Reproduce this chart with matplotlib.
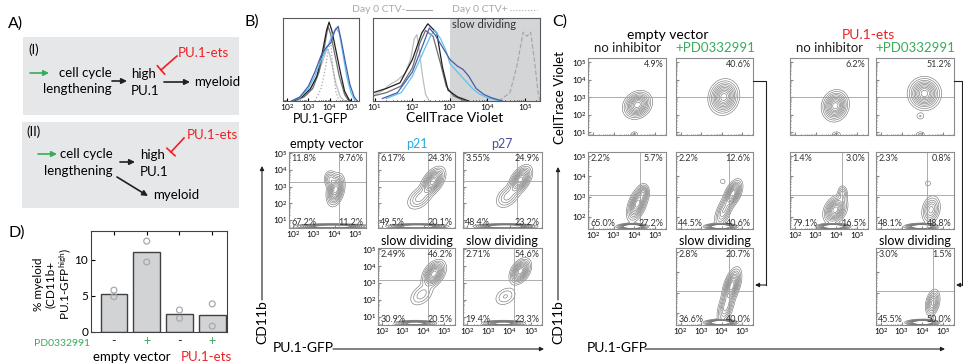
import numpy as np
import matplotlib.pyplot as plt
from matplotlib.patches import Rectangle

plt.rcParams['font.family'] = ['Lato', 'DejaVu Sans']
plt.rcParams['mathtext.default'] = 'regular'

W, H = 963, 363
GREEN = '#3aaa5c'
RED = '#ed2024'
CYAN = '#27aae1'
NAVY = '#4b4fa0'

# ---- panel D data ----
inhib_signs = ['-', '+', '-', '+']
bar_heights = [5.3, 11.1, 2.5, 2.4]
rep1 = [5.8, 12.6, 3.05, 3.9]
rep2 = [4.9, 9.7, 1.9, 0.8]

# ---- panel B histograms: log10 intensity vs relative count ----
gfp_lgray_x = [2.5, 3.0, 3.4, 3.7, 3.85, 3.95, 4.1, 4.3, 4.5, 4.7]
gfp_lgray_y = [0, 0.1, 0.3, 0.5, 0.62, 0.6, 0.45, 0.2, 0.05, 0]
gfp_dot_x = [3.3, 3.6, 3.8, 3.95, 4.05, 4.15, 4.3, 4.45]
gfp_dot_y = [0, 0.15, 0.4, 0.65, 0.7, 0.4, 0.1, 0]
gfp_black_x = [2.3, 2.7, 3.1, 3.4, 3.65, 3.85, 3.97, 4.1, 4.3, 4.5, 4.7, 4.9, 5.0]
gfp_black_y = [0, 0.05, 0.15, 0.3, 0.58, 0.85, 0.95, 0.85, 0.6, 0.35, 0.12, 0.02, 0]
gfp_dgray_x = [2.3, 2.8, 3.2, 3.5, 3.75, 3.92, 4.05, 4.25, 4.45, 4.7, 4.9]
gfp_dgray_y = [0, 0.05, 0.15, 0.35, 0.65, 0.9, 0.8, 0.55, 0.3, 0.08, 0]
gfp_p21_x = [2.2, 2.6, 3.0, 3.3, 3.6, 3.9, 4.1, 4.3, 4.45, 4.6, 4.8, 5.0, 5.2]
gfp_p21_y = [0, 0.04, 0.15, 0.3, 0.5, 0.65, 0.78, 0.88, 0.82, 0.6, 0.3, 0.1, 0]
gfp_p27_x = [2.2, 2.6, 3.0, 3.3, 3.6, 3.85, 4.05, 4.25, 4.4, 4.55, 4.75, 4.95, 5.15, 5.3]
gfp_p27_y = [0, 0.05, 0.18, 0.35, 0.55, 0.65, 0.7, 0.85, 0.9, 0.72, 0.45, 0.2, 0.05, 0]

ctv_lgray_x = [1.0, 1.2, 1.4, 1.6, 1.8, 1.95, 2.05, 2.12, 2.2, 2.27, 2.35, 2.45]
ctv_lgray_y = [0.08, 0.12, 0.2, 0.25, 0.33, 0.5, 0.75, 0.8, 0.55, 0.3, 0.08, 0]
ctv_dot_x = [4.3, 4.6, 4.8, 4.95, 5.05, 5.15, 5.25, 5.35, 5.4]
ctv_dot_y = [0, 0.1, 0.45, 0.83, 0.78, 0.83, 0.5, 0.1, 0]
ctv_black_x = [0.95, 1.3, 1.67, 2.0, 2.25, 2.41, 2.65, 2.8, 2.95, 3.2, 3.5]
ctv_black_y = [0.1, 0.15, 0.22, 0.5, 0.82, 0.93, 0.82, 0.41, 0.13, 0.05, 0]
ctv_dgray_x = [0.95, 1.3, 1.7, 2.0, 2.2, 2.35, 2.55, 2.75, 2.9, 3.1, 3.4]
ctv_dgray_y = [0.06, 0.1, 0.18, 0.4, 0.7, 0.85, 0.78, 0.45, 0.18, 0.06, 0]
ctv_p21_x = [1.3, 1.7, 2.0, 2.3, 2.5, 2.6, 2.75, 2.9, 3.0, 3.2, 3.4, 3.6, 3.8, 4.0, 4.3]
ctv_p21_y = [0.03, 0.1, 0.3, 0.6, 0.8, 0.85, 0.75, 0.6, 0.45, 0.35, 0.25, 0.15, 0.08, 0.04, 0]
ctv_p27_x = [1.2, 1.6, 2.0, 2.3, 2.45, 2.6, 2.8, 3.0, 3.2, 3.35, 3.5, 3.7, 3.9, 4.1, 4.4]
ctv_p27_y = [0.03, 0.1, 0.35, 0.7, 0.88, 0.8, 0.65, 0.5, 0.42, 0.38, 0.3, 0.15, 0.08, 0.04, 0]

# ---- flow contour populations: (x, y, sd x, sd y, corr, weight) in log10 units ----
B_ev = [(4.05, 2.8, 0.19, 0.42, 0.3, 1.0), (3.8, 3.45, 0.15, 0.25, 0.0, 0.35), (3.9, 0.6, 0.7, 0.06, 0, 2.0)]
B_p21 = [(4.45, 3.3, 0.26, 0.38, 0.5, 1.0), (3.8, 2.3, 0.3, 0.35, 0.4, 0.3), (3.7, 0.6, 0.55, 0.06, 0, 2.5)]
B_p27 = [(4.5, 3.4, 0.24, 0.38, 0.5, 1.0), (3.9, 2.4, 0.28, 0.35, 0.4, 0.3), (3.8, 0.6, 0.55, 0.06, 0, 2.5)]
B_p21_slow = [(4.5, 3.55, 0.25, 0.35, 0.4, 1.0), (3.9, 2.3, 0.3, 0.35, 0.4, 0.22), (3.6, 0.6, 0.4, 0.07, 0, 1.5)]
B_p27_slow = [(4.5, 3.7, 0.22, 0.33, 0.4, 1.0), (3.8, 2.2, 0.28, 0.3, 0.3, 0.18), (3.7, 0.6, 0.4, 0.07, 0, 1.5)]

C_ev_ctv = [(4.15, 2.55, 0.3, 0.34, 0.2, 1.0), (4.0, 0.85, 0.12, 0.12, 0, 0.12)]
C_evpd_ctv = [(4.1, 3.0, 0.32, 0.43, 0.1, 1.0)]
C_ets_ctv = [(3.95, 2.5, 0.28, 0.38, 0.1, 1.0), (4.0, 0.85, 0.15, 0.12, 0, 0.12)]
C_etspd_ctv = [(4.1, 3.2, 0.34, 0.4, 0.0, 1.0), (3.9, 1.9, 0.13, 0.13, 0, 0.1), (3.9, 0.85, 0.15, 0.12, 0, 0.12)]

C_ev_cd = [(4.15, 2.65, 0.22, 0.38, 0.5, 1.0), (4.45, 3.2, 0.12, 0.18, 0, 0.4), (3.9, 1.52, 0.28, 0.06, 0, 3.0)]
C_evpd_cd = [(4.55, 3.15, 0.2, 0.3, 0.5, 1.0), (4.1, 2.3, 0.22, 0.38, 0.6, 0.45), (4.05, 3.75, 0.1, 0.1, 0, 0.09), (3.95, 1.52, 0.3, 0.06, 0, 3.0)]
C_ets_cd = [(3.95, 2.35, 0.25, 0.3, 0.3, 1.0), (4.3, 3.15, 0.12, 0.2, 0, 0.3), (3.85, 1.52, 0.3, 0.06, 0, 3.0)]
C_etspd_cd = [(4.42, 2.35, 0.21, 0.32, 0.2, 0.5), (4.27, 3.65, 0.11, 0.11, 0, 0.09), (3.95, 1.52, 0.3, 0.06, 0, 3.0)]
C_ev_slow = [(4.5, 3.35, 0.2, 0.38, 0.5, 1.0), (4.2, 2.3, 0.2, 0.4, 0.5, 0.5), (3.95, 1.52, 0.3, 0.06, 0, 3.0)]
C_ets_slow = [(4.5, 2.5, 0.16, 0.3, 0.3, 0.6), (4.0, 1.52, 0.3, 0.06, 0, 3.0)]

LEVELS = [0.05, 0.1, 0.17, 0.25, 0.34, 0.44, 0.55, 0.66, 0.78, 0.9]

fig = plt.figure(figsize=(W / 100, H / 100), dpi=100)


def px_axes(x0, y0, x1, y1):
    return fig.add_axes([x0 / W, 1 - y1 / H, (x1 - x0) / W, (y1 - y0) / H])


def density(blobs, X, Y):
    Z = np.zeros_like(X)
    for cx, cy, sx, sy, rho, w in blobs:
        dx = (X - cx) / sx
        dy = (Y - cy) / sy
        Z += w * np.exp(-(dx**2 - 2 * rho * dx * dy + dy**2) / (2 * (1 - rho**2)))
    return Z


def log_ticks(ax, axis, lo, hi, labels):
    major = [t for t in range(int(np.ceil(lo)), int(np.floor(hi)) + 1)]
    minor = [n + np.log10(k) for n in range(int(np.floor(lo)), int(hi) + 1)
             for k in range(2, 10) if lo < n + np.log10(k) < hi]
    lab = [r'$10^{%d}$' % t for t in major] if labels else [''] * len(major)
    if axis == 'x':
        ax.set_xticks(major, lab)
        ax.set_xticks(minor, minor=True)
    else:
        ax.set_yticks(major, lab)
        ax.set_yticks(minor, minor=True)


def flow(rect, blobs, xlim, ylim, hline, vline, pcts, xlab=False, ylab=False):
    ax = px_axes(*rect)
    X, Y = np.meshgrid(np.linspace(xlim[0], xlim[1], 260), np.linspace(ylim[0], ylim[1], 260))
    ax.contour(X, Y, density(blobs, X, Y), levels=LEVELS, colors='#7a7a7a', linewidths=0.45)
    ax.axhline(hline, color='#a0a0a0', lw=0.6)
    if vline is not None:
        ax.axvline(vline, color='#a0a0a0', lw=0.6)
    ax.set_xlim(*xlim)
    ax.set_ylim(*ylim)
    log_ticks(ax, 'x', xlim[0], xlim[1], xlab)
    log_ticks(ax, 'y', ylim[0], ylim[1], ylab)
    ax.tick_params(which='both', direction='in', length=2, color='#888888', labelsize=6, pad=1)
    ax.tick_params(which='minor', length=1)
    for s in ax.spines.values():
        s.set_color('#8c8c8c')
        s.set_linewidth(0.8)
    spots = [(0.03, 0.97, 'left', 'top'), (0.97, 0.97, 'right', 'top'),
             (0.03, 0.01, 'left', 'bottom'), (0.97, 0.01, 'right', 'bottom')]
    for txt, (x, y, ha, va) in zip(pcts, spots):
        if txt:
            ax.text(x, y, txt, transform=ax.transAxes, ha=ha, va=va, fontsize=6.5, color='#333333')
    return ax


# ---------------- panel B histograms ----------------
h1 = px_axes(283, 18, 359, 101)
for xs, ys, c, ls in [(gfp_lgray_x, gfp_lgray_y, '#bcbec0', '-'), (gfp_dot_x, gfp_dot_y, '#a7a9ac', ':'),
                      (gfp_dgray_x, gfp_dgray_y, '#6d6e71', '-'), (gfp_black_x, gfp_black_y, '#231f20', '-'),
                      (gfp_p21_x, gfp_p21_y, '#5bc4ee', '-'), (gfp_p27_x, gfp_p27_y, '#4d5aa8', '-')]:
    h1.plot(xs, ys, color=c, ls=ls, lw=0.9)
h1.set_xlim(1.8, 5.38)
h1.set_ylim(0, 1.0)
h1.set_yticks([])
log_ticks(h1, 'x', 1.8, 5.38, True)

h2 = px_axes(373, 18, 540, 101)
h2.axvspan(3.0, 5.5, color='#d4d5d6', lw=0)
for xs, ys, c, ls in [(ctv_lgray_x, ctv_lgray_y, '#bcbec0', '-'), (ctv_dot_x, ctv_dot_y, '#a7a9ac', '--'),
                      (ctv_dgray_x, ctv_dgray_y, '#6d6e71', '-'), (ctv_black_x, ctv_black_y, '#231f20', '-'),
                      (ctv_p21_x, ctv_p21_y, '#5bc4ee', '-'), (ctv_p27_x, ctv_p27_y, '#4d5aa8', '-')]:
    h2.plot(xs, ys, color=c, ls=ls, lw=0.9)
h2.set_xlim(0.95, 5.4)
h2.set_ylim(0, 1.0)
h2.set_yticks([])
log_ticks(h2, 'x', 0.95, 5.4, True)
h2.text(3.05, 0.92, 'slow dividing', fontsize=8, color='#333333', va='center')
for hx in (h1, h2):
    hx.tick_params(which='both', direction='in', length=2, labelsize=6, pad=1)
    hx.tick_params(which='minor', length=1)
    for s in hx.spines.values():
        s.set_color('#58595b')
        s.set_linewidth(0.8)

# ---------------- panel B flow plots ----------------
BX, BY = (1.8, 5.52), (0.5, 5.08)
flow((289, 152, 366, 228), B_ev, BX, BY, 3.27, 4.22, ['11.8%', '9.76%', '67.2%', '11.2%'], True, True)
flow((378, 152, 455, 228), B_p21, BX, BY, 3.33, 4.22, ['6.17%', '24.3%', '49.5%', '20.1%'])
flow((463, 152, 542, 228), B_p27, BX, BY, 3.33, 4.32, ['3.55%', '24.9%', '48.4%', '23.2%'])
flow((378, 248, 455, 325), B_p21_slow, BX, BY, 3.15, 4.22, ['2.49%', '46.2%', '30.9%', '20.5%'], True, True)
flow((463, 248, 542, 325), B_p27_slow, BX, BY, 3.15, 4.22, ['2.71%', '54.6%', '19.4%', '23.3%'], True)

# ---------------- panel C flow plots ----------------
CX, CY1, CY2 = (1.76, 5.53), (0.83, 5.23), (1.4, 5.2)
flow((588, 58, 666, 135), C_ev_ctv, CX, CY1, 3.0, None, ['', '4.9%', '', ''], False, True)
flow((676, 58, 753, 135), C_evpd_ctv, CX, CY1, 3.0, None, ['', '40.6%', '', ''])
flow((790, 58, 868, 135), C_ets_ctv, CX, CY1, 3.0, None, ['', '6.2%', '', ''])
flow((876, 58, 954, 135), C_etspd_ctv, CX, CY1, 3.0, None, ['', '51.2%', '', ''])
flow((588, 152, 666, 229), C_ev_cd, CX, CY2, 3.08, 4.27, ['2.2%', '5.7%', '65.0%', '27.2%'], True, True)
flow((676, 152, 753, 229), C_evpd_cd, CX, CY2, 3.08, 4.37, ['2.2%', '12.6%', '44.5%', '40.6%'])
flow((790, 152, 868, 229), C_ets_cd, CX, CY2, 3.08, 4.27, ['1.4%', '3.0%', '79.1%', '16.5%'], True)
flow((876, 152, 954, 229), C_etspd_cd, CX, CY2, 3.08, 4.22, ['2.3%', '0.8%', '48.1%', '48.8%'])
flow((676, 248, 753, 325), C_ev_slow, CX, CY2, 3.08, 4.37, ['2.8%', '20.7%', '36.6%', '40.0%'], True)
flow((876, 248, 954, 325), C_ets_slow, CX, CY2, 3.08, 4.5, ['3.0%', '1.5%', '45.5%', '50.0%'], True)

# ---------------- panel D ----------------
axD = px_axes(91, 231, 227, 332)
pos = np.arange(1, 5)
axD.bar(pos, bar_heights, width=0.82, color='#d1d3d4', edgecolor='#414042', lw=1)
for p, a, b in zip(pos, rep1, rep2):
    axD.scatter([p, p], [a, b], s=18, facecolors='none', edgecolors='#a7a9ac', lw=0.9, zorder=3)
axD.set_xlim(0.3, 4.45)
axD.set_ylim(0, 14)
axD.set_yticks([0, 5, 10])
axD.set_xticks(pos, inhib_signs)
for lbl, c in zip(axD.get_xticklabels(), ['#333333', GREEN, '#333333', GREEN]):
    lbl.set_color(c)
axD.tick_params(axis='x', bottom=False, top=True, direction='in', length=3, labelsize=9, pad=2)
axD.tick_params(axis='y', direction='in', length=3, labelsize=8.5, pad=2)
for s in axD.spines.values():
    s.set_color('#414042')

# ---------------- overlay: panel A, labels, arrows ----------------
ov = fig.add_axes([0, 0, 1, 1], zorder=10)
ov.set_xlim(0, W)
ov.set_ylim(H, 0)
ov.axis('off')


def arrow(x0, y0, x1, y1, color='#231f20', lw=1.2, ms=8):
    ov.annotate('', xy=(x1, y1), xytext=(x0, y0),
                arrowprops=dict(arrowstyle='-|>', color=color, lw=lw, mutation_scale=ms,
                                shrinkA=0, shrinkB=0))


def inhibit(x0, y0, x1, y1):
    ov.plot([x0, x1], [y0, y1], color=RED, lw=1.2)
    d = np.array([x1 - x0, y1 - y0]) / np.hypot(x1 - x0, y1 - y0)
    n = np.array([-d[1], d[0]]) * 5.5
    ov.plot([x1 - n[0], x1 + n[0]], [y1 - n[1], y1 + n[1]], color=RED, lw=1.2)


fs_a = 9.5
ov.add_patch(Rectangle((23, 37), 216, 78, fc='#e6e7e8', ec='none'))
ov.add_patch(Rectangle((22, 122), 217, 86, fc='#e6e7e8', ec='none'))
ov.text(28, 50, '(I)', fontsize=fs_a, va='center')
arrow(30, 73, 49, 73, GREEN)
ov.text(112, 73, 'cell cycle', fontsize=fs_a, ha='right', va='center')
ov.text(112, 89, 'lengthening', fontsize=fs_a, ha='right', va='center')
arrow(112, 81, 127, 81)
ov.text(131, 74, 'high', fontsize=fs_a, va='center')
ov.text(131, 91, 'PU.1', fontsize=fs_a, va='center')
inhibit(177, 56, 161, 70)
ov.text(178, 53, 'PU.1-ets', fontsize=fs_a, color=RED, va='center')
arrow(164, 82, 190, 82)
ov.text(194, 82, 'myeloid', fontsize=fs_a, va='center')

ov.text(26, 132, '(II)', fontsize=fs_a, va='center')
arrow(38, 154, 57, 154, GREEN)
ov.text(113, 154, 'cell cycle', fontsize=fs_a, ha='right', va='center')
ov.text(113, 171, 'lengthening', fontsize=fs_a, ha='right', va='center')
arrow(120, 162, 135, 162)
ov.text(140, 155, 'high', fontsize=fs_a, va='center')
ov.text(140, 172, 'PU.1', fontsize=fs_a, va='center')
inhibit(184, 138, 171, 152)
ov.text(187, 135, 'PU.1-ets', fontsize=fs_a, color=RED, va='center')
arrow(117, 177, 148, 196)
ov.text(153, 195, 'myeloid', fontsize=fs_a, va='center')

for x, y, t in [(8, 24, 'A)'), (245, 22, 'B)'), (552, 22, 'C)'), (8, 233, 'D)')]:
    ov.text(x, y, t, fontsize=11.5, va='center')

# panel D labels
ov.text(53, 284, '% myeloid\n(CD11b+\nPU.1-GFP$^{high}$)', fontsize=8.5, rotation=90,
        ha='center', va='center', multialignment='center', linespacing=1.1)
ov.text(90, 343, 'PD0332991', fontsize=7.5, color=GREEN, ha='right', va='center')
ov.text(132, 357, 'empty vector', fontsize=9.5, ha='center', va='center')
ov.text(206, 357, 'PU.1-ets', fontsize=9.5, color=RED, ha='center', va='center')

# panel B labels
LG = '#a7a9ac'
ov.text(352, 10, 'Day 0 CTV-', fontsize=7.5, color=LG, va='center')
ov.plot([406, 432], [10, 10], color=LG, lw=0.8)
ov.text(452, 10, 'Day 0 CTV+', fontsize=7.5, color=LG, va='center')
ov.plot([510, 537], [10, 10], color=LG, lw=0.8, ls=':')
ov.text(320, 119, 'PU.1-GFP', fontsize=9, ha='center', va='center')
ov.text(455, 118, 'CellTrace Violet', fontsize=10, ha='center', va='center')
ov.text(327, 144, 'empty vector', fontsize=9, ha='center', va='center')
ov.text(417, 144, 'p21', fontsize=9, color=CYAN, ha='center', va='center')
ov.text(502, 144, 'p27', fontsize=9, color=NAVY, ha='center', va='center')
ov.text(417, 241, 'slow dividing', fontsize=9, ha='center', va='center')
ov.text(502, 241, 'slow dividing', fontsize=9, ha='center', va='center')
ov.text(262, 322, 'CD11b', fontsize=10, rotation=90, ha='center', va='center')
arrow(262, 300, 262, 166, ms=6, lw=0.8)
ov.text(273, 348, 'PU.1-GFP', fontsize=10, va='center')
arrow(333, 349, 544, 349, ms=6, lw=0.8)

# panel C labels
ov.text(668, 35, 'empty vector', fontsize=10, ha='center', va='center')
ov.text(868, 35, 'PU.1-ets', fontsize=10, color=RED, ha='center', va='center')
for cx, t, c in [(628, 'no inhibitor', '#231f20'), (715, '+PD0332991', GREEN),
                 (830, 'no inhibitor', '#231f20'), (915, '+PD0332991', GREEN)]:
    ov.text(cx, 48, t, fontsize=9.5, color=c, ha='center', va='center')
ov.text(715, 241, 'slow dividing', fontsize=9, ha='center', va='center')
ov.text(915, 241, 'slow dividing', fontsize=9, ha='center', va='center')
ov.text(560, 98, 'CellTrace Violet', fontsize=9.5, rotation=90, ha='center', va='center')
ov.text(558, 322, 'CD11b', fontsize=10, rotation=90, ha='center', va='center')
arrow(558, 300, 558, 167, ms=6, lw=0.8)
ov.text(587, 348, 'PU.1-GFP', fontsize=10, va='center')
arrow(645, 349, 945, 349, ms=6, lw=0.8)
ov.plot([753, 766, 766], [81, 81, 285], color='#231f20', lw=0.8)
arrow(766, 285, 755, 285, ms=6, lw=0.8)
ov.plot([954, 962, 962], [81, 81, 285], color='#231f20', lw=0.8)
arrow(962, 285, 956, 285, ms=6, lw=0.8)

fig.savefig('out.png', dpi=100)
